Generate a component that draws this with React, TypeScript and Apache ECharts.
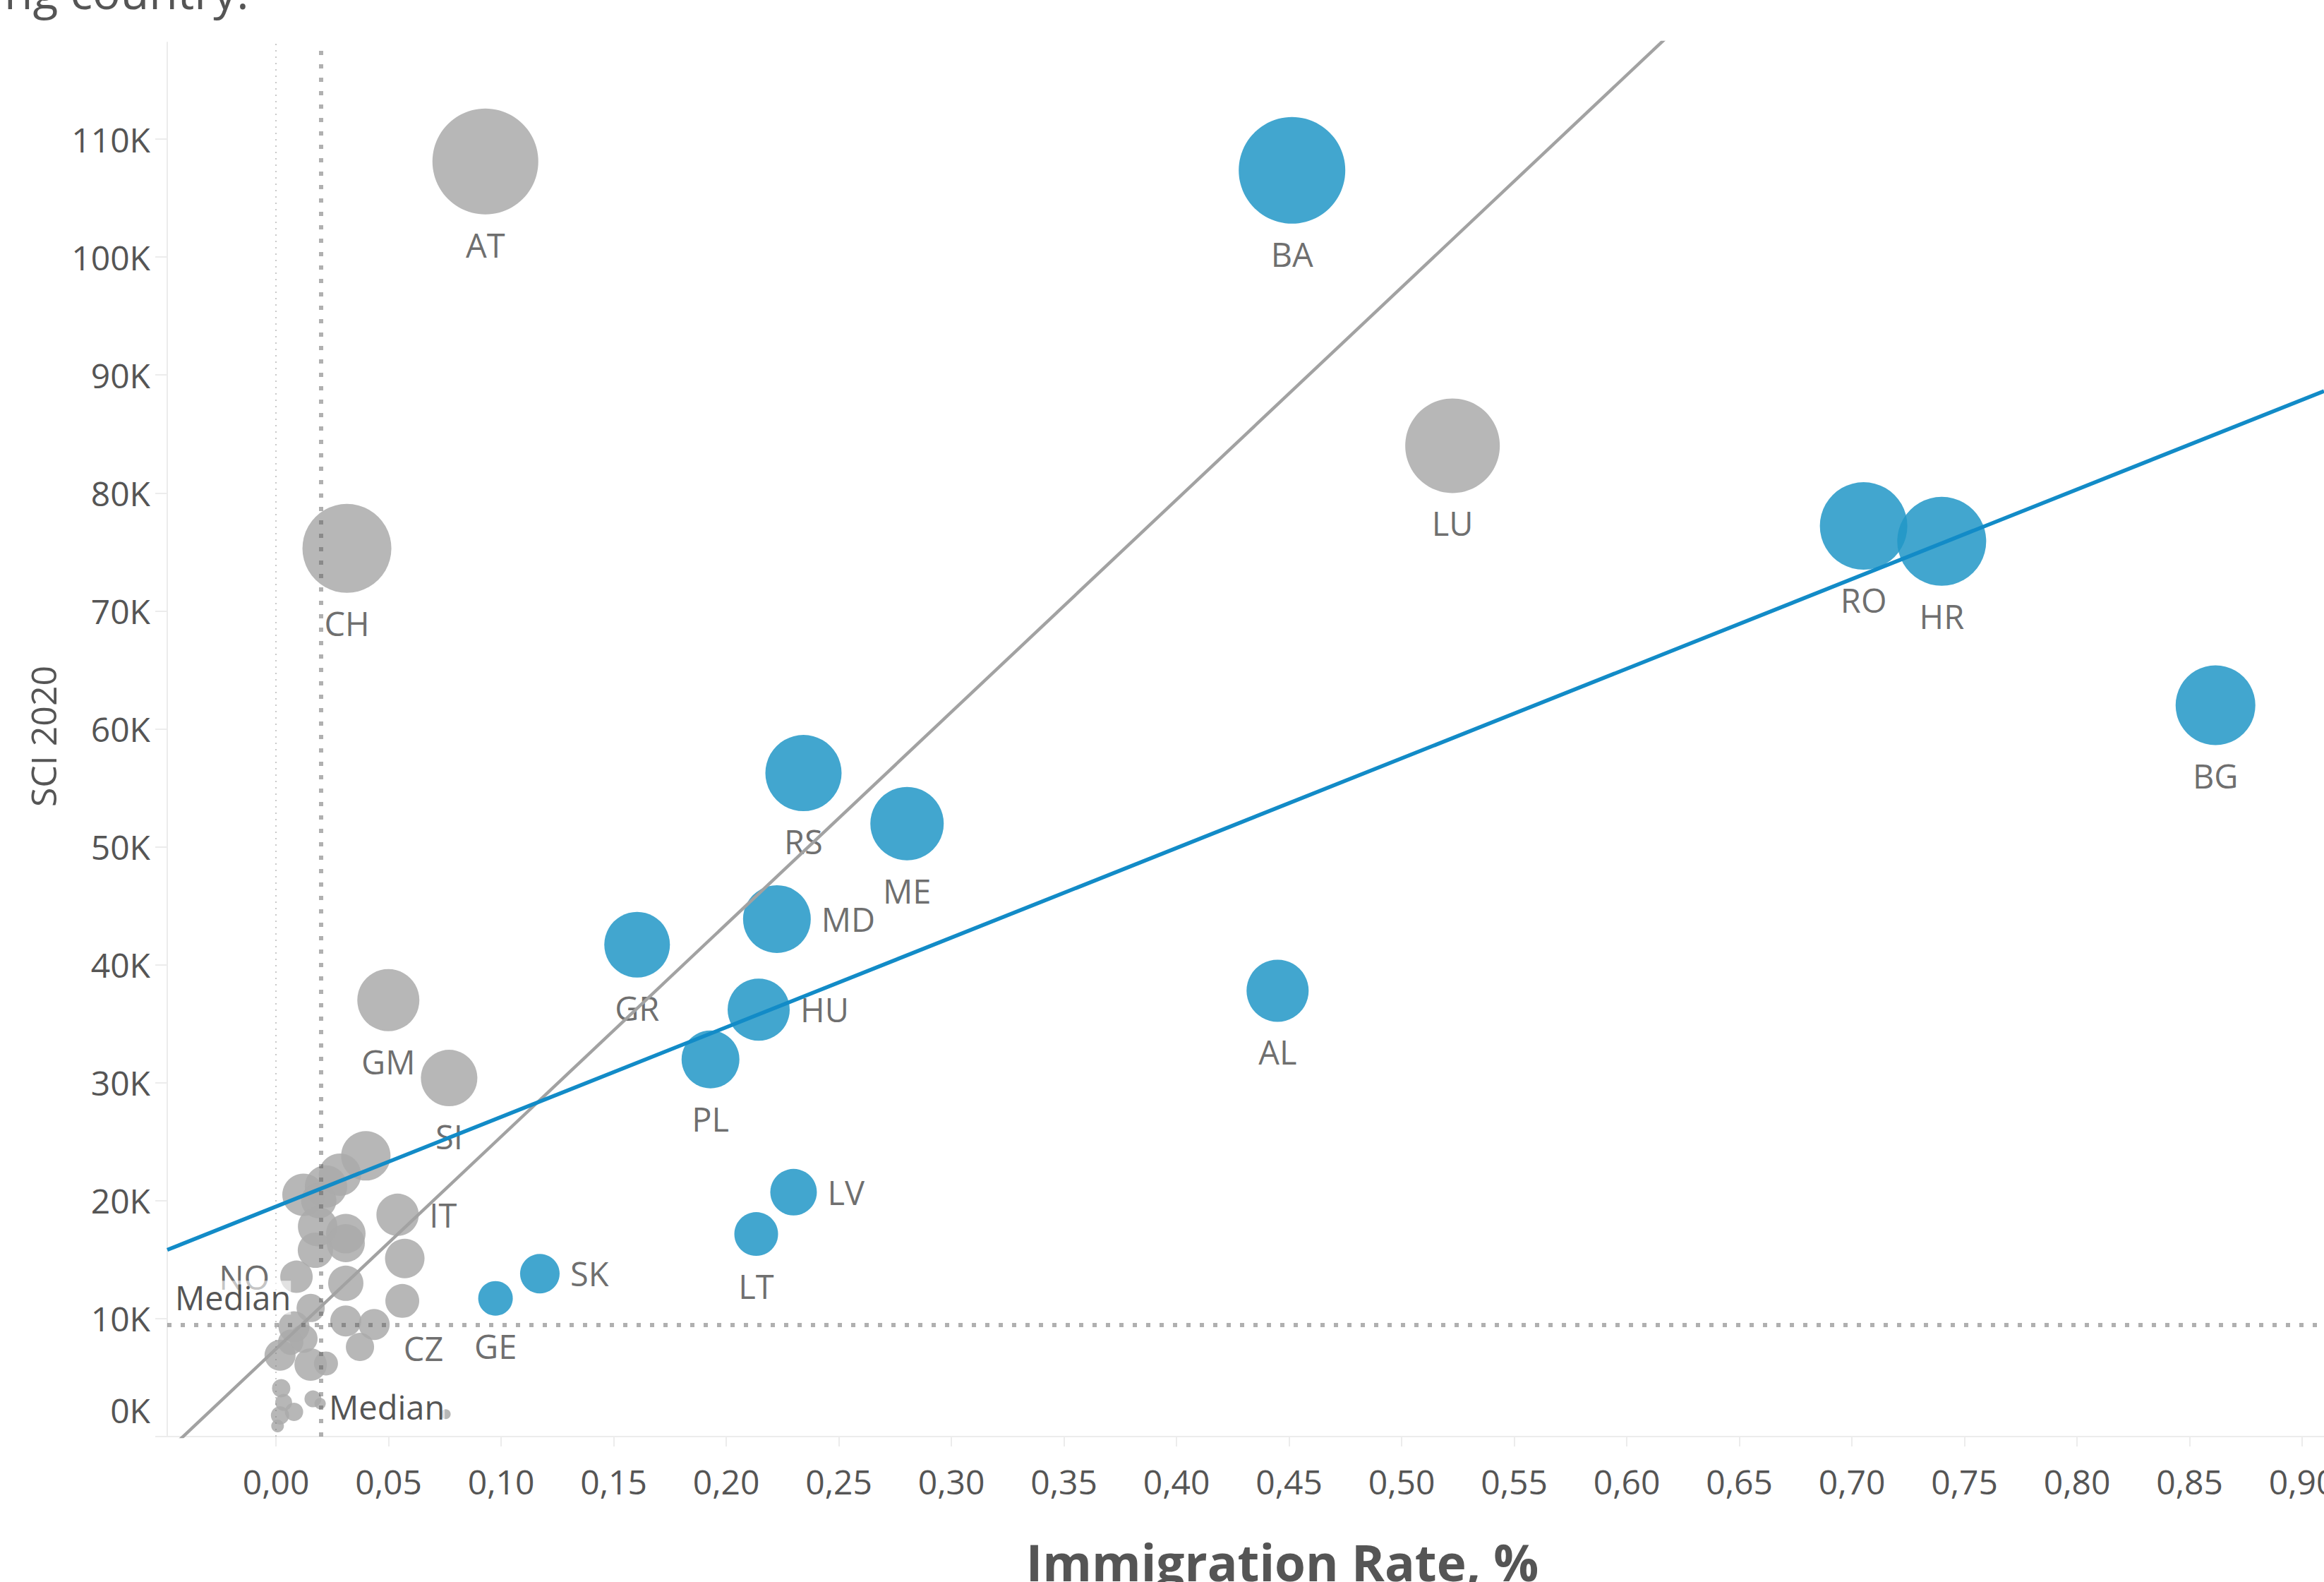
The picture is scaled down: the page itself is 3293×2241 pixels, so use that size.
import React, { useEffect, useRef } from "react";
import * as echarts from "echarts";

// ---------- data ----------
const xTicks = [0, 0.05, 0.1, 0.15, 0.2, 0.25, 0.3, 0.35, 0.4, 0.45, 0.5, 0.55, 0.6, 0.65, 0.7, 0.75, 0.8, 0.85, 0.9];
const yTicks = [0, 10000, 20000, 30000, 40000, 50000, 60000, 70000, 80000, 90000, 100000, 110000];

// blue group
const blueCodes = ["BA", "RO", "HR", "BG", "RS", "ME", "MD", "GR", "HU", "PL", "AL", "LV", "LT", "SK", "GE"];
const blueRate = [0.4513, 0.7052, 0.7399, 0.8615, 0.2343, 0.2803, 0.2225, 0.1604, 0.2144, 0.193, 0.4449, 0.2299, 0.2133, 0.1172, 0.0975];
const blueSci = [107350, 77200, 75900, 62000, 56250, 51960, 43870, 41700, 36200, 31980, 37800, 20720, 17170, 13810, 11720];
const blueBubble = [75.5, 62, 63, 56.5, 54, 52, 48, 46.5, 44, 41, 44, 33, 31, 28, 24.5];

// grey group
const grayCodes = ["AT", "LU", "CH", "GM", "SI", "IT", "NO", "CZ",
  "", "", "", "", "", "", "", "", "", "", "", "", "", "", "", "", "", "", "", "", "", "", "", "", "", "", "", "", ""];
const grayRate = [0.093, 0.5226, 0.0315, 0.0499, 0.0769, 0.054, 0.0091, 0.0561,
  0.0399, 0.0284, 0.0222, 0.0122, 0.019, 0.0185, 0.031, 0.031, 0.0175, 0.0572, 0.031, 0.0436, 0.0373, 0.031,
  0.0154, 0.008, 0.0122, 0.0018, 0.0154, 0.0222, 0.0065, 0.0023, 0.0164, 0.0018, 0.008, 0.0007, 0.0754, 0.0196, 0.0034];
const graySci = [108100, 84000, 75300, 37000, 30400, 18800, 13550, 11500,
  23800, 22200, 21200, 20500, 20000, 17800, 17200, 16400, 15800, 15100, 9800, 9500, 7600, 13000,
  10900, 9300, 8300, 6900, 6100, 6200, 8000, 4100, 3200, 1800, 2100, 900, 1900, 2800, 2900];
const grayBubble = [75, 67, 63, 44, 40, 30, 23, 24,
  35, 30, 30, 30, 25, 28, 28, 27, 25, 28, 22, 22, 20, 25,
  20, 22, 20, 22, 23, 17, 18, 13, 12, 13, 13, 9, 7, 8, 12];

// reference lines & trends
const medianRate = 0.0191;
const medianSci = 9500;
const zeroRate = 0;
const blueTrend = { intercept: 19500, slope: 76000 };
const grayTrend = { intercept: 7430, slope: 180000 };

// axis range
const X_MIN = -0.0483;
const X_MAX = 0.9097;
const Y_MIN = 0;
const Y_MAX = 118200;

// label placement
const rightLabels = ["MD", "HU", "LV", "SK", "IT"];
const leftLabels = ["NO"];
const labelNudge: Record<string, number[]> = { CZ: [30, 0] };

const FONT = "'Open Sans', 'Noto Sans', sans-serif";
const TXT = "#555555";

function bubbles(codes: string[], rate: number[], sci: number[], size: number[]) {
  return codes.map((c, i) => {
    const pos = rightLabels.includes(c) ? "right" : leftLabels.includes(c) ? "left" : "bottom";
    return {
      name: c,
      value: [rate[i], sci[i], size[i]],
      symbolSize: size[i] * 2,
      label: {
        show: c !== "",
        formatter: "{b}",
        position: pos,
        distance: pos === "bottom" ? 19 : 15,
        offset: labelNudge[c] || [0, 0],
        fontFamily: FONT,
        fontSize: 47,
        lineHeight: 48,
        color: TXT,
      },
    };
  });
}

function trend(t: { intercept: number; slope: number }) {
  return [X_MIN, X_MAX].map((x) => [x, t.intercept + t.slope * x]);
}

export default function App() {
  const ref = useRef<HTMLDivElement>(null);
  useEffect(() => {
    if (!ref.current) return;
    const chart = echarts.init(ref.current, undefined, { renderer: "svg" });
    const thick = { type: [6, 13], width: 6, color: "rgba(90,90,90,0.48)", cap: "butt" };
    const thin = { type: [2, 7], width: 2, color: "rgba(120,120,120,0.4)", cap: "butt" };
    const medianLabel = {
      show: true,
      formatter: "Median",
      align: "left",
      verticalAlign: "middle",
      fontFamily: FONT,
      fontSize: 47,
      lineHeight: 48,
      color: TXT,
      backgroundColor: "rgba(255,255,255,0.6)",
    };
    chart.setOption({
      animation: false,
      backgroundColor: "#ffffff",
      grid: { left: 237, right: 0, top: 60, bottom: 206, containLabel: false, outerBoundsMode: "none" },
      xAxis: {
        type: "value",
        min: X_MIN,
        max: X_MAX,
        splitLine: { show: false },
        axisLine: { show: true, onZero: false, lineStyle: { color: "#ececec", width: 2 } },
        axisTick: { show: true, customValues: xTicks, length: 14, lineStyle: { color: "#ececec", width: 2 } },
        axisLabel: {
          customValues: xTicks,
          formatter: (v: number) => v.toFixed(2).replace(".", ","),
          fontFamily: FONT,
          fontSize: 48,
          lineHeight: 48,
          color: TXT,
          margin: 39,
        },
      },
      yAxis: {
        type: "value",
        min: Y_MIN,
        max: Y_MAX,
        splitLine: { show: false },
        axisLine: { show: true, onZero: false, lineStyle: { color: "#ececec", width: 2 } },
        axisTick: { show: true, customValues: yTicks, length: 17, lineStyle: { color: "#ececec", width: 2 } },
        axisLabel: {
          customValues: yTicks,
          formatter: (v: number) => (v === 0 ? "{z|0K}" : `${Math.round(v / 1000)}K`),
          fontFamily: FONT,
          fontSize: 48,
          lineHeight: 48,
          color: TXT,
          margin: 24,
          rich: {
            z: { fontFamily: FONT, fontSize: 48, lineHeight: 48, color: TXT, padding: [0, 0, 76, 0] },
          },
        },
      },
      graphic: [
        {
          type: "text",
          x: 6,
          y: -13,
          style: { text: "ng country.", align: "left", verticalAlign: "middle", font: `66px ${FONT}`, fill: "#555555" },
        },
        {
          type: "text",
          x: 61,
          y: 1043,
          rotation: Math.PI / 2,
          style: { text: "SCI 2020", align: "center", verticalAlign: "middle", font: `50px ${FONT}`, fill: TXT },
        },
        {
          type: "text",
          x: 1817,
          y: 2212,
          style: { text: "Immigration Rate, %", align: "center", verticalAlign: "middle", font: `bold 71px ${FONT}`, fill: "#555555" },
        },
      ],
      series: [
        {
          type: "scatter",
          name: "grey",
          z: 2,
          itemStyle: { color: "#aaaaaa", opacity: 0.85 },
          data: bubbles(grayCodes, grayRate, graySci, grayBubble),
        },
        {
          type: "scatter",
          name: "blue",
          z: 2,
          itemStyle: { color: "rgb(33,150,199)", opacity: 0.85 },
          data: bubbles(blueCodes, blueRate, blueSci, blueBubble),
        },
        {
          type: "line",
          name: "grey trend",
          z: 3,
          silent: true,
          showSymbol: false,
          clip: true,
          lineStyle: { color: "#a2a2a2", width: 4.5 },
          data: trend(grayTrend),
        },
        {
          type: "line",
          name: "blue trend",
          z: 3,
          silent: true,
          showSymbol: false,
          clip: true,
          lineStyle: { color: "#128bc7", width: 5.5 },
          data: trend(blueTrend),
        },
        {
          type: "scatter",
          name: "reference",
          z: 4,
          silent: true,
          data: [],
          markLine: {
            silent: true,
            symbol: ["none", "none"],
            label: { show: false },
            data: [
              { xAxis: medianRate, lineStyle: thick },
              { yAxis: medianSci, lineStyle: thick },
              { xAxis: zeroRate, lineStyle: thin },
            ],
          },
          markPoint: {
            silent: true,
            symbol: "circle",
            symbolSize: 0,
            itemStyle: { color: "rgba(0,0,0,0)" },
            data: [
              { coord: [X_MIN, medianSci], label: { ...medianLabel, position: [11, -38] } },
              { coord: [medianRate, Y_MIN], label: { ...medianLabel, position: [14, -42] } },
            ],
          },
        },
      ],
    });
    return () => chart.dispose();
  }, []);
  return <div ref={ref} style={{ position: "absolute", left: 0, top: 0, width: 3293, height: 2241 }} />;
}
